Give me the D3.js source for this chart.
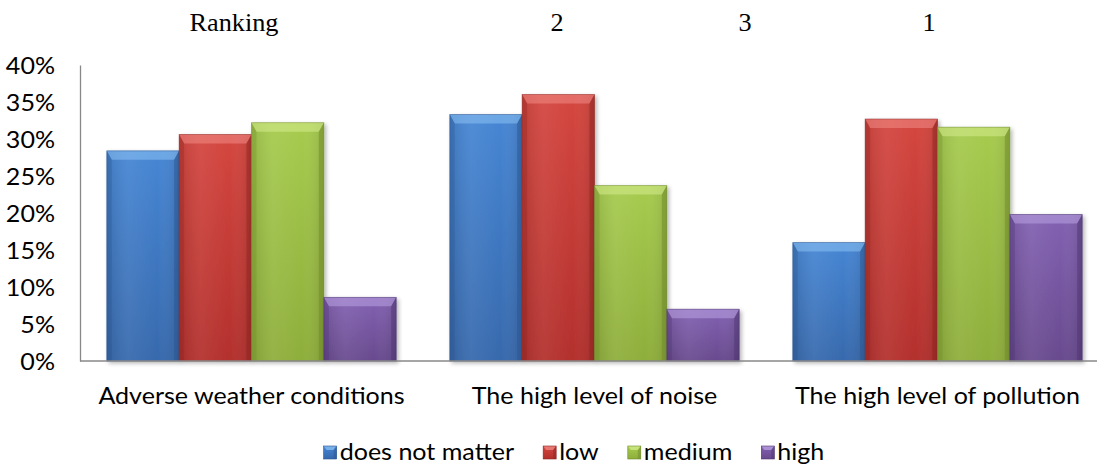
<!DOCTYPE html>
<html><head><meta charset="utf-8">
<script src="https://cdn.jsdelivr.net/npm/d3@7"></script>
<style>
html,body{margin:0;padding:0;background:#fff;}
svg{display:block;}
</style></head>
<body>
<script>
const categories = ["Adverse weather conditions", "The high level of noise", "The high level of pollution"];
const seriesNames = ["does not matter", "low", "medium", "high"];
const doesNotMatter = [0.284, 0.333, 0.160];
const low = [0.306, 0.360, 0.327];
const medium = [0.322, 0.237, 0.316];
const high = [0.086, 0.070, 0.198];
const rankingLabel = "Ranking";
const rankings = ["2", "3", "1"];
const yTicks = [0, 0.05, 0.10, 0.15, 0.20, 0.25, 0.30, 0.35, 0.40];

const seriesValues = [doesNotMatter, low, medium, high];
const colors = [
  {top:"#4686d4", bot:"#3769ad", light:"#86bcf0", dark:"#2b5590"},
  {top:"#d4463f", bot:"#b3302d", light:"#ee8680", dark:"#8e2522"},
  {top:"#a6cb4e", bot:"#8eae3b", light:"#d0ea88", dark:"#6f8a2a"},
  {top:"#8261b2", bot:"#684a8e", light:"#b69ddd", dark:"#4e3670"}
];

const W = 1097, H = 466;
const SANS = "Lato, 'Open Sans', sans-serif";
const FS = 23, SX = 1.09;

const svg = d3.select("body").append("svg").attr("width", W).attr("height", H);
const defs = svg.append("defs");
colors.forEach((c, i) => {
  const g = defs.append("linearGradient").attr("id", "g" + i).attr("x1", 0).attr("y1", 0).attr("x2", 0).attr("y2", 1);
  g.append("stop").attr("offset", "0%").attr("stop-color", c.top);
  g.append("stop").attr("offset", "100%").attr("stop-color", c.bot);
  const h = defs.append("linearGradient").attr("id", "h" + i).attr("x1", 0).attr("y1", 0).attr("x2", 1).attr("y2", 0);
  h.append("stop").attr("offset", "0%").attr("stop-color", "#000").attr("stop-opacity", 0.10);
  h.append("stop").attr("offset", "30%").attr("stop-color", "#fff").attr("stop-opacity", 0.06);
  h.append("stop").attr("offset", "70%").attr("stop-color", "#fff").attr("stop-opacity", 0.0);
  h.append("stop").attr("offset", "100%").attr("stop-color", "#000").attr("stop-opacity", 0.12);
});
const flt = defs.append("filter").attr("id", "sh").attr("x", "-20%").attr("y", "-20%").attr("width", "140%").attr("height", "140%");
flt.append("feGaussianBlur").attr("in", "SourceAlpha").attr("stdDeviation", 2);
flt.append("feOffset").attr("dx", 2).attr("dy", 2).attr("result", "b");
flt.append("feComponentTransfer").append("feFuncA").attr("type", "linear").attr("slope", 0.3);
const fm = flt.append("feMerge"); fm.append("feMergeNode"); fm.append("feMergeNode").attr("in", "SourceGraphic");

const plot = {left: 80, right: 1109, top: 65, bottom: 361};
const x0 = d3.scaleBand().domain(categories).range([plot.left, plot.right]).paddingInner(0).paddingOuter(0);
const x1 = d3.scaleBand().domain(seriesNames).range([0, x0.bandwidth()]).paddingInner(0).paddingOuter(0.37);
const y = d3.scaleLinear().domain([0, 0.4]).range([plot.bottom, plot.top]);

const yAxis = d3.axisLeft(y).tickValues(yTicks).tickFormat(d3.format(".0%")).tickSize(0).tickPadding(25);
const ya = svg.append("g").attr("transform", `translate(${plot.left},0)`).call(yAxis);
ya.select(".domain").attr("stroke", "#888").attr("stroke-width", 1.3);
ya.selectAll("text").attr("font-family", SANS).attr("font-size", FS).attr("fill", "#000").attr("dy", "0.35em");

function bevelBar(g, bx, by, bw, bh, i) {
  const c = colors[i];
  const b = Math.min(9, bh / 2), s = 5;
  const grp = g.append("g").attr("filter", "url(#sh)");
  grp.append("rect").attr("x", bx).attr("y", by).attr("width", bw).attr("height", bh).attr("fill", `url(#g${i})`);
  grp.append("rect").attr("x", bx).attr("y", by).attr("width", bw).attr("height", bh).attr("fill", `url(#h${i})`);
  grp.append("polygon").attr("points", [[bx, by], [bx + bw, by], [bx + bw - s, by + b], [bx + s, by + b]].join(" "))
    .attr("fill", c.light).attr("opacity", 0.6);
  grp.append("polygon").attr("points", [[bx, by], [bx + s, by + b], [bx + s, by + bh], [bx, by + bh]].join(" "))
    .attr("fill", c.dark).attr("opacity", 0.3);
  grp.append("polygon").attr("points", [[bx + bw, by], [bx + bw - s, by + b], [bx + bw - s, by + bh], [bx + bw, by + bh]].join(" "))
    .attr("fill", c.dark).attr("opacity", 0.5);
  grp.append("rect").attr("x", bx).attr("y", by).attr("width", bw).attr("height", bh)
    .attr("fill", "none").attr("stroke", c.dark).attr("stroke-opacity", 0.6).attr("stroke-width", 0.8);
}

const barsG = svg.append("g");
categories.forEach((cat, ci) => {
  seriesNames.forEach((sn, si) => {
    const v = seriesValues[si][ci];
    const bx = x0(cat) + x1(sn);
    bevelBar(barsG, bx, y(v), x1.bandwidth(), y(0) - y(v), si);
  });
});

svg.append("line").attr("x1", plot.left).attr("x2", W).attr("y1", y(0)).attr("y2", y(0))
  .attr("stroke", "#888").attr("stroke-width", 1.3);

function stretchText(sel, cx, cy, sx) {
  sel.attr("transform", `translate(${cx},${cy}) scale(${sx},1)`);
}
categories.forEach(cat => {
  const t = svg.append("text").attr("text-anchor", "middle").attr("font-family", SANS).attr("font-size", FS)
    .attr("fill", "#000").text(cat);
  stretchText(t, x0(cat) + x0.bandwidth() / 2, 404, SX);
});

const rankX = [234, 557, 745, 929];
[rankingLabel].concat(rankings).forEach((r, i) => {
  const t = svg.append("text").attr("text-anchor", "middle").attr("font-family", "'Liberation Serif', 'Times New Roman', serif")
    .attr("font-size", 25).attr("fill", "#000").text(r);
  stretchText(t, rankX[i], 31, 1.05);
});

const legG = svg.append("g");
const items = [];
let cur = 0;
const GAP = 29;
seriesNames.forEach((sn, i) => {
  const it = legG.append("g");
  const tx = it.append("text").attr("font-family", SANS).attr("font-size", FS).attr("fill", "#000").text(sn);
  const tw = tx.node().getComputedTextLength() * SX;
  tx.attr("transform", `translate(16,0) scale(${SX},1)`);
  const sq = it.append("g");
  const sz = 13;
  sq.append("rect").attr("x", 0).attr("y", -sz - 1).attr("width", sz).attr("height", sz).attr("fill", `url(#g${i})`);
  sq.append("polygon").attr("points", [[0, -sz - 1], [sz, -sz - 1], [sz - 3, -sz + 3], [3, -sz + 3]].join(" ")).attr("fill", colors[i].light).attr("opacity", 0.8);
  sq.append("polygon").attr("points", [[sz, -sz - 1], [sz, -1], [sz - 3, -1], [sz - 3, -sz + 3]].join(" ")).attr("fill", colors[i].dark).attr("opacity", 0.5);
  sq.append("rect").attr("x", 0).attr("y", -sz - 1).attr("width", sz).attr("height", sz).attr("fill", "none").attr("stroke", colors[i].dark).attr("stroke-width", 0.6);
  items.push({it, x: cur});
  cur += 16 + tw + GAP;
});
const total = cur - GAP;
const legStart = 574 - total / 2;
items.forEach(d => d.it.attr("transform", `translate(${legStart + d.x},460)`));

ya.selectAll(".tick text").attr("text-anchor", "end").each(function(){
  d3.select(this).attr("transform", `scale(${SX},1)`).attr("x", -25 / SX);
});
</script>
</body></html>
